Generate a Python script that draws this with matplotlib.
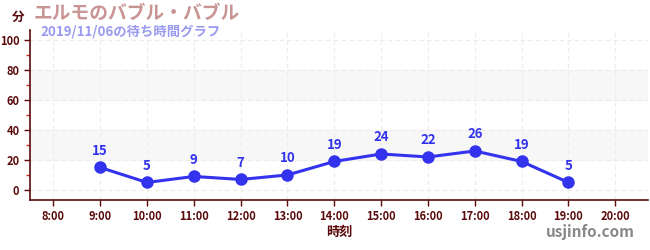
import matplotlib
matplotlib.use('Agg')
import matplotlib.pyplot as plt
from matplotlib.ticker import MultipleLocator

plt.rcParams['font.family'] = ['Noto Sans CJK JP', 'DejaVu Sans']

hours = [9, 10, 11, 12, 13, 14, 15, 16, 17, 18, 19]
waits = [15, 5, 9, 7, 10, 19, 24, 22, 26, 19, 5]
tick_hours = list(range(8, 21))
tick_labels = ['%d:00' % h for h in tick_hours]

title = 'エルモのバブル・バブル'
subtitle = '2019/11/06の待ち時間グラフ'

maroon = '#5a0a0a'
blue = '#3333ee'

fig = plt.figure(figsize=(6.5, 2.5), dpi=100)
ax = fig.add_axes([0.046, 0.2, 0.951, 0.68])

ax.set_xlim(7.5, 20.7)
ax.set_ylim(-6.7, 106.7)

# shaded bands
for lo, hi in [(20, 40), (60, 80)]:
    ax.axhspan(lo, hi, color='#f7f7f7', zorder=0)

ax.set_xticks(tick_hours)
ax.set_xticklabels(tick_labels)
ax.set_yticks([0, 20, 40, 60, 80, 100])
ax.yaxis.set_minor_locator(MultipleLocator(10))
ax.grid(True, which='major', color='#ececec', linestyle=(0, (4, 3)), linewidth=0.8, zorder=0)

for s in ['top', 'right']:
    ax.spines[s].set_visible(False)
for s in ['left', 'bottom']:
    ax.spines[s].set_color(maroon)
    ax.spines[s].set_linewidth(1.2)

ax.tick_params(axis='both', which='major', colors=maroon, labelsize=8, length=4, width=1)
ax.tick_params(axis='y', which='minor', colors='#dd2222', length=3, width=1)
ax.tick_params(axis='x', labelsize=8)
for lab in ax.get_xticklabels() + ax.get_yticklabels():
    lab.set_fontweight('bold')

ax.plot(hours, waits, color=blue, linewidth=2.2, marker='o', markersize=8, zorder=3)
for h, w in zip(hours, waits):
    ax.annotate(str(w), (h, w), xytext=(0, 7), textcoords='offset points',
                ha='center', va='bottom', color=blue, fontsize=9.5, fontweight='bold')

ax.set_xlabel('時刻', color=maroon, fontsize=9.5, fontweight='bold', labelpad=1)

fig.text(0.018, 0.93, '分', color=maroon, fontsize=9, fontweight='bold', va='center')
fig.text(0.052, 0.945, title, color='#c99494', fontsize=13.5, fontweight='bold', va='center')
fig.text(0.063, 0.872, subtitle, color='#9a9af0', fontsize=9.6, fontweight='bold', va='center')
fig.text(0.977, 0.07, 'usjinfo.com', color='#888888', fontsize=11, fontweight='bold',
         ha='right', va='center')

fig.savefig('out.png', dpi=100)
